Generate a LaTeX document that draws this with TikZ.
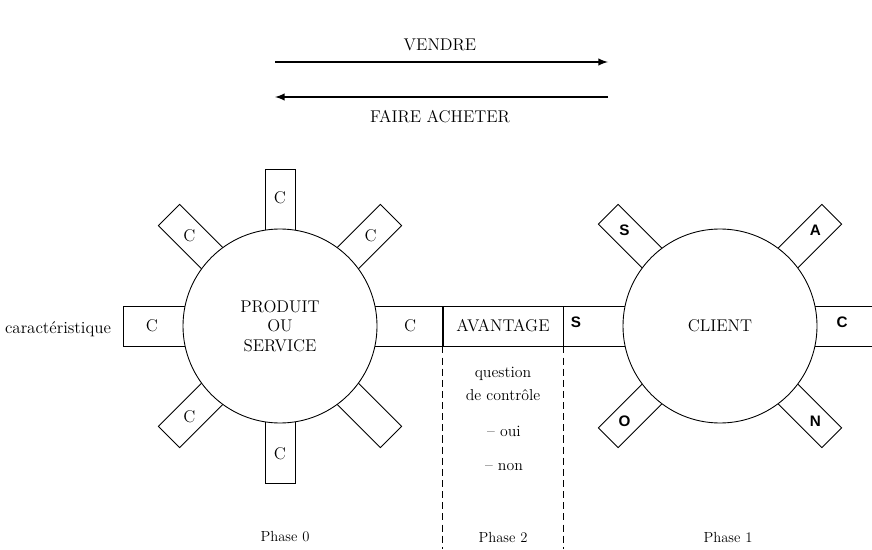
\documentclass[tikz,border=0pt]{standalone}
\usepackage{fontspec}
\setsansfont{Liberation Sans}
\usetikzlibrary{calc,positioning}

\begin{document}
\begin{tikzpicture}[x=0.03cm,y=0.03cm,font=\fontsize{14.5}{16.5}\selectfont,
  tab/.style={draw,line width=0.75pt,fill=white},
  rond/.style={circle,draw,line width=0.75pt,fill=white,minimum size=5.82cm,inner sep=0pt,align=center},
  cell/.style={draw,line width=0.75pt,minimum height=1.2cm,minimum width=3.6cm,inner sep=0pt},
  lettre/.style={font=\fontsize{13}{15}\selectfont\sffamily\bfseries},
  petit/.style={font=\fontsize{13.5}{19}\selectfont,align=center},
  phase/.style={font=\fontsize{12.5}{15}\selectfont},
  fleche/.style={line width=1.8pt,-latex}]
  \useasboundingbox (0,0) rectangle (872,549);

  \node (vendre) at (440,504) {VENDRE};
  \node (faire) at (440,432) {FAIRE ACHETER};
  \coordinate (v1) at (275,487); \coordinate (v2) at (608,487);
  \coordinate (f1) at (608,452); \coordinate (f2) at (275,452);
  \draw[fleche] (v1) -- (v2);
  \draw[fleche] (f1) -- (f2);

  \coordinate (pc) at (280,223);
  \coordinate (cc) at (720,223);

  \foreach \a/\w/\t in {45/15/C,90/15/C,135/15/C,180/20/C,225/15/C,270/15/C,315/15/}
  {
    \draw[tab,shift={(pc)},rotate=\a] (40,-\w) -- (157,-\w) -- (157,\w) -- (40,\w) -- cycle;
    \node (p\a) at ($(pc)+(\a:128)$) {\t};
  }

  \foreach \a/\t in {45/A,135/S,225/O,315/N}
  {
    \draw[tab,shift={(cc)},rotate=\a] (40,-14) -- (158,-14) -- (158,14) -- (40,14) -- cycle;
    \node[lettre] (c\a) at ($(cc)+(\a:135)$) {\t};
  }

  \node[cell] (avantage) at (503,223) {AVANTAGE};
  \node[cell,minimum width=4.5cm,anchor=east] (cellc) at (avantage.west) {};
  \node[cell,minimum width=4.5cm,anchor=west] (cells) at (avantage.east) {};
  \node[cell,minimum width=4cm,anchor=west] (tabc) at (760,223) {};

  \node[rond] (prod) at (pc) {PRODUIT\\OU\\SERVICE};
  \node[rond] (client) at (cc) {CLIENT};

  \node (lc) at (410,223) {C};
  \node[lettre] (ls) at (576,227) {S};
  \node[lettre] (lt) at (842,227) {C};
  \node (carac) at (58,220) {caractéristique};

  \coordinate (d1) at (avantage.south west |- 0,0);
  \coordinate (d2) at (avantage.south east |- 0,0);
  \draw[dash pattern=on 6pt off 3.5pt,line width=0.6pt] (avantage.south west) -- (d1);
  \draw[dash pattern=on 6pt off 3.5pt,line width=0.6pt] (avantage.south east) -- (d2);

  \node[petit] (question) at (503,165) {question\\de contrôle};
  \node[petit] (oui) at (504,118) {-- oui};
  \node[petit] (non) at (504,82) {-- non};

  \node[phase] (phase0) at (285,12) {Phase 0};
  \node[phase] (phase2) at (503,12) {Phase 2};
  \node[phase] (phase1) at (728,12) {Phase 1};
\end{tikzpicture}
\end{document}
